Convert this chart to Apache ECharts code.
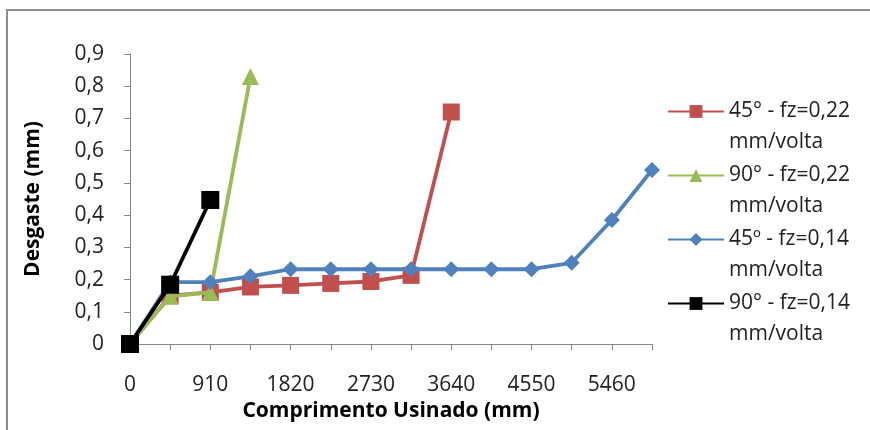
<!DOCTYPE html>
<html><head><meta charset="utf-8">
<script src="https://cdn.jsdelivr.net/npm/echarts@6/dist/echarts.min.js"></script>
<style>html,body{margin:0;padding:0;background:#fff}#c{width:870px;height:430px}</style>
</head><body><div id="c"></div>
<script>
var categories = ['0','455','910','1365','1820','2275','2730','3185','3640','4095','4550','5005','5460','5915'];
var yTicks = [0,0.1,0.2,0.3,0.4,0.5,0.6,0.7,0.8,0.9];
var names = ['45° - fz=0,22 mm/volta','90° - fz=0,22 mm/volta','45º - fz=0,14 mm/volta','90° - fz=0,14 mm/volta'];
var red45_022 = [0, 0.15, 0.16, 0.177, 0.182, 0.188, 0.194, 0.213, 0.72];
var green90_022 = [0, 0.148, 0.16, 0.83];
var blue45_014 = [0, 0.192, 0.192, 0.21, 0.232, 0.232, 0.232, 0.232, 0.232, 0.232, 0.232, 0.252, 0.385, 0.54];
var black90_014 = [0, 0.184, 0.447];

var FONT = 'Open Sans';
var chart = echarts.init(document.getElementById('c'), null, {renderer:'canvas'});
function ser(name, data, color, symbol, size, z){
  return {name:name, type:'line', data:data, color:color, symbol:symbol, symbolSize:size,
    showSymbol:true, z:z, lineStyle:{width:3.8,color:color}, itemStyle:{color:color}, animation:false};
}
function leg(i){
  return {orient:'vertical', left:662, top:65 + 64*i, itemWidth:56, itemHeight:16, itemGap:0,
    data:[names[i]], selectedMode:false,
    formatter:function(n){ var k=n.indexOf(' mm/volta'); return '{e| }\n{t|'+n.substring(0,k)+'}\n{t|mm/volta}'; },
    textStyle:{fontFamily:FONT, fontSize:21, color:'#222',
      rich:{e:{fontFamily:FONT, fontSize:21, lineHeight:31}, t:{fontFamily:FONT, fontSize:21, lineHeight:31, color:'#222'}}}};
}
chart.setOption({
  backgroundColor:'#fff',
  animation:false,
  graphic:[{type:'rect', shape:{x:7,y:10,width:900,height:500}, style:{fill:null, stroke:'#8c8c8c', lineWidth:2}, silent:true}],
  grid:{left:130, right:218, top:54, bottom:86, containLabel:false},
  xAxis:{type:'category', boundaryGap:false, data:categories,
    name:'Comprimento Usinado (mm)', nameLocation:'middle', nameGap:57,
    nameTextStyle:{fontFamily:FONT, fontWeight:'bold', fontSize:21, color:'#000'},
    axisLine:{lineStyle:{color:'#888', width:1}},
    axisTick:{show:true, interval:0, length:6, lineStyle:{color:'#888'}},
    axisLabel:{interval:1, margin:31, fontFamily:FONT, fontSize:21, color:'#222'},
    splitLine:{show:false}},
  yAxis:{type:'value', min:0, max:0.9, interval:0.1,
    name:'Desgaste (mm)', nameLocation:'middle', nameGap:86,
    nameTextStyle:{fontFamily:FONT, fontWeight:'bold', fontSize:21, color:'#000'},
    axisLine:{show:true, lineStyle:{color:'#888', width:1}},
    axisTick:{show:true, length:6, lineStyle:{color:'#888'}},
    axisLabel:{margin:26, fontFamily:FONT, fontSize:21, color:'#222',
      formatter:function(v){ var t = yTicks.filter(function(x){return Math.abs(x-v)<1e-9;}); return t.length? String(Math.round(v*10)/10).replace('.',','):''; }},
    splitLine:{show:false}},
  legend:[leg(0), leg(1), leg(2), leg(3)],
  series:[
    ser(names[0], red45_022, '#C0504D', 'rect', 17, 2),
    ser(names[1], green90_022, '#9BBB59', 'triangle', 17, 3),
    ser(names[2], blue45_014, '#4F81BD', 'diamond', 16, 4),
    ser(names[3], black90_014, '#000000', 'rect', 18, 5)
  ]
});
</script></body></html>
